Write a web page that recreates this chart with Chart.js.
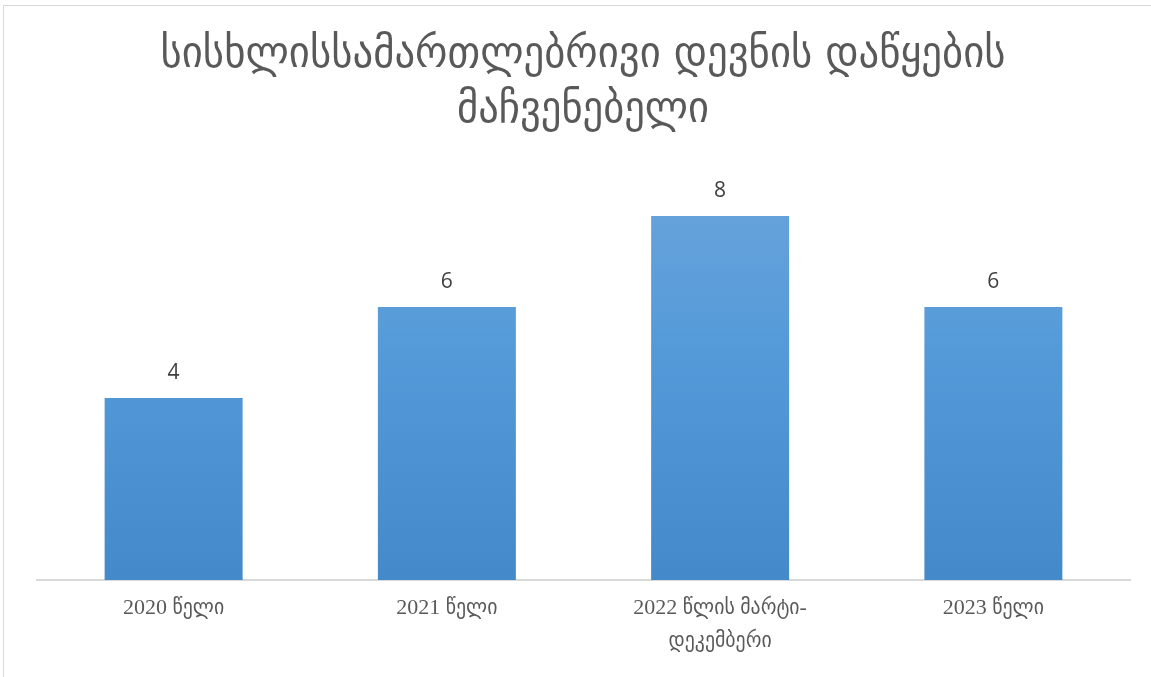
<!DOCTYPE html>
<html><head><meta charset="utf-8">
<script src="https://cdn.jsdelivr.net/npm/chart.js@4"></script>
<style>html,body{margin:0;padding:0;background:#fff;overflow:hidden}#wrap{position:absolute;left:0;top:0;width:1151px;height:677px}</style>
</head><body><div id="wrap"><canvas id="c" width="1151" height="677"></canvas></div>
<script>
const titleLines = ["სისხლისსამართლებრივი დევნის დაწყების", "მაჩვენებელი"];
const categories = [["2020 წელი"], ["2021 წელი"], ["2022 წლის მარტი-", "დეკემბერი"], ["2023 წელი"]];
const values = [4, 6, 8, 6];
const yMax = 10;

const GEO = '"DejaVu Sans Condensed", "DejaVu Sans", sans-serif';
const TICKF = '"Liberation Serif", "DejaVu Sans Condensed", "DejaVu Sans", serif';

const decor = {
  id: 'decor',
  beforeDraw(chart) {
    const ctx = chart.ctx;
    ctx.save();
    ctx.strokeStyle = '#d9d9d9';
    ctx.lineWidth = 1;
    ctx.strokeRect(3.5, 5.5, 1170, 700);
    ctx.fillStyle = '#595959';
    ctx.textAlign = 'center';
    ctx.textBaseline = 'middle';
    ctx.font = '43px ' + GEO;
    const ys = [56, 111];
    const targetW = [845, 252];
    titleLines.forEach((t, i) => {
      const w = ctx.measureText(t).width;
      const sx = targetW[i] / w;
      ctx.save();
      ctx.translate(583, ys[i]);
      ctx.scale(sx, 1);
      ctx.fillText(t, 0, 0);
      ctx.restore();
    });
    ctx.restore();
  },
  afterDatasetsDraw(chart) {
    const ctx = chart.ctx;
    const meta = chart.getDatasetMeta(0);
    ctx.save();
    ctx.fillStyle = '#404040';
    ctx.font = '21px "Open Sans", "Liberation Sans", sans-serif';
    ctx.textAlign = 'center';
    ctx.textBaseline = 'middle';
    meta.data.forEach((bar, i) => {
      ctx.fillText(String(values[i]), bar.x, bar.y - 25);
    });
    ctx.restore();
  }
};

new Chart(document.getElementById('c'), {
  type: 'bar',
  data: {
    labels: categories,
    datasets: [{
      data: values,
      backgroundColor(ctx) {
        const ca = ctx.chart.chartArea;
        if (!ca) return '#5b9bd5';
        const el = ctx.element;
        const top = el && el.y !== undefined ? el.y : ca.top;
        const g = ctx.chart.ctx.createLinearGradient(0, top, 0, ca.bottom);
        g.addColorStop(0, '#70a7dc');
        g.addColorStop(0.5, '#549ad9');
        g.addColorStop(1, '#4489c9');
        return g;
      },
      borderWidth: 0,
      categoryPercentage: 1,
      barPercentage: 0.505
    }]
  },
  options: {
    responsive: false,
    animation: false,
    devicePixelRatio: 1,
    layout: { padding: { left: 37, right: 21, top: 125, bottom: 0 } },
    plugins: { legend: { display: false }, tooltip: { enabled: false }, title: { display: false } },
    scales: {
      y: { display: false, min: 0, max: yMax },
      x: {
        grid: { display: false, drawTicks: false },
        border: { display: true, color: '#d9d9d9', width: 2 },
        ticks: {
          color: '#595959',
          padding: 12,
          maxRotation: 0,
          autoSkip: false,
          font: { family: TICKF, size: 22, lineHeight: 1.5 }
        },
        afterFit(scale) { scale.height = 97; }
      }
    }
  },
  plugins: [decor]
});
</script></body></html>
